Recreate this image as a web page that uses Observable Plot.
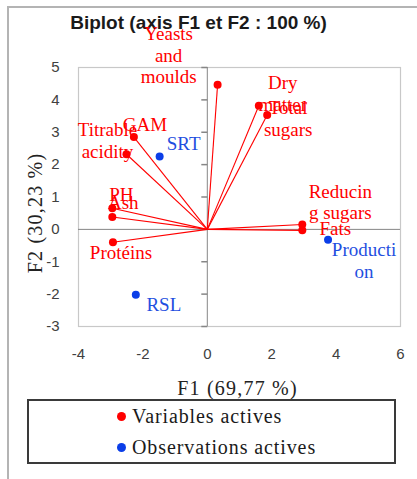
<!DOCTYPE html>
<html>
<head>
<meta charset="utf-8">
<script src="https://cdn.jsdelivr.net/npm/d3@7"></script>
<script src="https://cdn.jsdelivr.net/npm/@observablehq/plot@0.6"></script>
<style>
  body { margin: 0; background: #fff; }
  #wrap { position: relative; width: 417px; height: 479px; overflow: hidden; background: #fff; }
  #edge { position: absolute; left: 7px; top: 6px; right: -10px; bottom: -10px;
          border-left: 2px solid #b4b4b4; border-top: 2px solid #b4b4b4; }
  #title { position: absolute; left: 0; top: 13px; width: 397px; text-align: center;
           font: bold 19px "Liberation Sans", Arial, sans-serif; line-height: 19px; color: #1a1a1a;
           white-space: nowrap; }
  #chart { position: absolute; left: 0; top: 0; }
  #legend { position: absolute; left: 27px; top: 399px; width: 365px; height: 61px;
            border: 2px solid #3a3a3a; }
  .row { position: absolute; left: 88px; white-space: nowrap;
         font: 20px "Liberation Serif", "Times New Roman", serif; line-height: 20px;
         letter-spacing: 0.9px; color: #1a1a1a; }
  .row i { display: inline-block; width: 9px; height: 9px; border-radius: 50%;
           vertical-align: 2px; margin-right: 6px; }
</style>
</head>
<body>
<div id="wrap">
  <div id="edge"></div>
  <div id="title">Biplot (axis F1 et F2 : 100 %)</div>
  <div id="chart"></div>
  <div id="legend"></div>
</div>
<script>
// Active variables: coordinates on F1 and F2
const varNames = ["Yeasts and moulds", "Dry matter", "Total sugars", "GAM", "Titrable acidity",
                  "PH", "Ash", "Protéins", "Reducing sugars", "Fats"];
const varF1 = [0.32, 1.60, 1.86, -2.28, -2.51, -2.95, -2.95, -2.93, 2.95, 2.95];
const varF2 = [4.47, 3.82, 3.53, 2.85, 2.32, 0.65, 0.38, -0.40, 0.15, -0.03];

// Active observations
const obsNames = ["SRT", "RSL", "Production"];
const obsF1 = [-1.48, -2.22, 3.75];
const obsF2 = [2.25, -2.02, -0.32];

// Axis ticks and titles
const f1Ticks = [-4, -2, 0, 2, 4, 6];
const f2Ticks = [-3, -2, -1, 0, 1, 2, 3, 4, 5];
const f1Title = "F1 (69,77 %)";
const f2Title = "F2 (30,23 %)";

// Legend entries
const legendLabels = ["Variables actives", "Observations actives"];

// Label text as wrapped inside each label box
const wrapped = {
  "Yeasts and moulds": "Yeasts\nand\nmoulds",
  "Dry matter": "Dry\nmatter",
  "Total sugars": "Total\nsugars",
  "Titrable acidity": "Titrable\nacidity",
  "Reducing sugars": "Reducin\ng sugars",
  "Production": "Producti\non"
};

// Label box offsets from their point, in pixels
const labelOffset = {
  "Yeasts and moulds": [-49, -30],
  "Dry matter": [24, -13],
  "Total sugars": [21, 3],
  "GAM": [11, -13],
  "Titrable acidity": [-19, -14],
  "PH": [9, -14],
  "Ash": [11, -15],
  "Protéins": [8, 10],
  "Reducing sugars": [38, -23],
  "Fats": [33, -2],
  "SRT": [24, -14],
  "RSL": [28, 9],
  "Production": [36, 20]
};

const RED = "#ff0000";
const BLUE_DOT = "#0b3ee8";
const BLUE_TEXT = "#1f4fe0";
const AXIS = "#868686";

const variables = varNames.map((name, i) => ({name, x: varF1[i], y: varF2[i]}));
const observations = obsNames.map((name, i) => ({name, x: obsF1[i], y: obsF2[i]}));

// small tick pointing left of the vertical zero axis
const leftTick = { draw(ctx) { ctx.moveTo(-6, 0); ctx.lineTo(0, 0); } };

const serif = "Liberation Serif, Times New Roman, serif";
const plainNumber = d => String(d);

function labelMarks(rows, color) {
  return rows.map(d => Plot.text([d], {
    x: "x", y: "y",
    text: r => wrapped[r.name] ?? r.name,
    dx: labelOffset[d.name][0], dy: labelOffset[d.name][1],
    fill: color, fontFamily: serif, fontSize: 19, lineHeight: 1.15,
    textAnchor: "middle", lineAnchor: "middle"
  }));
}

const chart = Plot.plot({
  width: 417,
  height: 399,
  marginTop: 67,
  marginBottom: 73,
  marginLeft: 78,
  marginRight: 17,
  style: {background: "transparent", overflow: "visible", color: "#404040",
          fontFamily: "Liberation Sans, Arial, sans-serif", fontSize: "15px"},
  x: {domain: [-4, 6], ticks: f1Ticks, tickFormat: plainNumber, tickSize: 0, tickPadding: 22, label: null},
  y: {domain: [-3, 5], ticks: f2Ticks, tickFormat: plainNumber, tickSize: 0, tickPadding: 19, label: null},
  marks: [
    Plot.frame({stroke: "#c8c8c8", strokeWidth: 1.2}),
    Plot.ruleX([0], {stroke: AXIS}),
    Plot.ruleY([0], {stroke: AXIS}),
    Plot.dot(f2Ticks, {x: 0, y: d => d, symbol: leftTick, stroke: AXIS, fill: "none"}),
    Plot.link(variables, {x1: 0, y1: 0, x2: "x", y2: "y", stroke: RED, strokeWidth: 1.1}),
    Plot.dot(variables, {x: "x", y: "y", r: 4, fill: RED}),
    Plot.dot(observations, {x: "x", y: "y", r: 4, fill: BLUE_DOT}),
    ...labelMarks(variables, RED),
    ...labelMarks(observations, BLUE_TEXT),
    Plot.text([f1Title], {frameAnchor: "bottom", text: d => d, lineAnchor: "top",
      dy: 54, dx: -2, fill: "#222", fontFamily: serif, fontSize: 20,
      textAnchor: "middle"}),
    Plot.text([f2Title], {frameAnchor: "left", text: d => d, rotate: -90, lineAnchor: "bottom",
      dx: -37, dy: 16, fill: "#222", fontFamily: serif, fontSize: 20,
      textAnchor: "middle"})
  ]
});
// letter spacing on the axis titles
chart.querySelectorAll("text").forEach(t => {
  if (t.textContent === f1Title || t.textContent === f2Title) t.setAttribute("letter-spacing", "1.2");
});
document.getElementById("chart").appendChild(chart);

// Legend
const legend = document.getElementById("legend");
const legendColors = [RED, BLUE_DOT];
legendLabels.forEach((label, i) => {
  const row = document.createElement("div");
  row.className = "row";
  row.style.top = (i === 0 ? 4.5 : 35.7) + "px";
  const dot = document.createElement("i");
  dot.style.background = legendColors[i];
  row.appendChild(dot);
  row.appendChild(document.createTextNode(label));
  legend.appendChild(row);
});
</script>
</body>
</html>
